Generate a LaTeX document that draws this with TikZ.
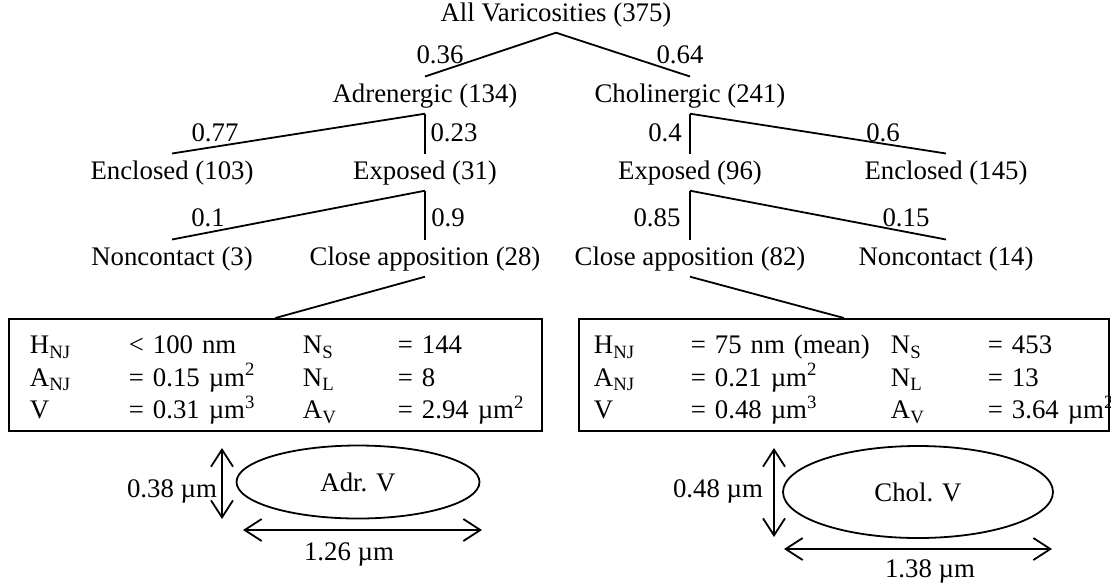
\documentclass[tikz,border=0pt]{standalone}
\usepackage{fontspec}
\setmainfont{Liberation Serif}
\usetikzlibrary{arrows.meta,shapes.geometric}
\newcommand{\figfont}{\fontsize{13.4pt}{16pt}\selectfont}
\setlength{\tabcolsep}{0pt}

\begin{document}
\begin{tikzpicture}[
    x=0.5pt, y=-0.5pt, line width=0.9pt,
    every node/.style={font=\figfont},
    tnode/.style={anchor=base, inner sep=3pt, text height=9.3pt, text depth=2.4pt},
    prob/.style={inner sep=1pt},
    databox/.style={draw, anchor=north west, align=left, inner ysep=1.2pt},
    vesicle/.style={draw, ellipse, inner sep=0pt},
    dimarrow/.style={<->, >={Straight Barb[length=8.5pt, width=11pt]}}
  ]
    \useasboundingbox (0,0) rectangle (1111,584);

    \node[tnode] (root) at (556,21) {All Varicosities (375)};
    \node[tnode] (adr) at (425,102) {Adrenergic (134)};
    \node[tnode] (chol) at (690,102) {Cholinergic (241)};
    \node[tnode] (adrEnc) at (172,179) {Enclosed (103)};
    \node[tnode] (adrExp) at (425,179) {Exposed (31)};
    \node[tnode] (cholExp) at (690,179) {Exposed (96)};
    \node[tnode] (cholEnc) at (946,179) {Enclosed (145)};
    \node[tnode] (adrNon) at (172,265) {Noncontact (3)};
    \node[tnode] (adrClose) at (425,265) {Close apposition (28)};
    \node[tnode] (cholClose) at (690,265) {Close apposition (82)};
    \node[tnode] (cholNon) at (946,265) {Noncontact (14)};

    \node[prob] (p036) at (440,55) {0.36};
    \node[prob] (p064) at (680,55) {0.64};
    \node[prob] (p077) at (215,133) {0.77};
    \node[prob] (p023) at (454,133) {0.23};
    \node[prob] (p04) at (665,133) {0.4};
    \node[prob] (p06) at (883,133) {0.6};
    \node[prob] (p01) at (208,218) {0.1};
    \node[prob] (p09) at (448,218) {0.9};
    \node[prob] (p085) at (657,218) {0.85};
    \node[prob] (p015) at (906,218) {0.15};

    \draw (root.south) -- (adr.north);
    \draw (root.south) -- (chol.north);
    \draw (adr.south) -- (adrEnc.north);
    \draw (adr.south) -- (adrExp.north);
    \draw (chol.south) -- (cholExp.north);
    \draw (chol.south) -- (cholEnc.north);
    \draw (adrExp.south) -- (adrNon.north);
    \draw (adrExp.south) -- (adrClose.north);
    \draw (cholExp.south) -- (cholClose.north);
    \draw (cholExp.south) -- (cholNon.north);

    \node[databox, inner xsep=10.5pt, text width=245.5pt] (adrBox) at (8,318) {%
      \begin{tabular}{p{49.5pt}p{87pt}p{47.5pt}l}
        \rule{0pt}{16.3pt}H\textsubscript{NJ} & < 100 nm & N\textsubscript{S} & = 144\\
        A\textsubscript{NJ} & = 0.15 µm\textsuperscript{2} & N\textsubscript{L} & = 8\\
        V & = 0.31 µm\textsuperscript{3} & A\textsubscript{V} & = 2.94 µm\textsuperscript{2}
      \end{tabular}};
    \node[databox, inner xsep=7.5pt, text width=250pt] (cholBox) at (578,318) {%
      \begin{tabular}{p{48.5pt}p{100pt}p{48.5pt}l}
        \rule{0pt}{16.3pt}H\textsubscript{NJ} & = 75 nm (mean) & N\textsubscript{S} & = 453\\
        A\textsubscript{NJ} & = 0.21 µm\textsuperscript{2} & N\textsubscript{L} & = 13\\
        V & = 0.48 µm\textsuperscript{3} & A\textsubscript{V} & = 3.64 µm\textsuperscript{2}
      \end{tabular}};

    \draw (adrClose.south) -- (adrBox.north);
    \draw (cholClose.south) -- (cholBox.north);

    \node[vesicle, minimum width=121.5pt, minimum height=36.5pt] (adrV) at (358,482) {Adr. V};
    \node[vesicle, minimum width=135pt, minimum height=46pt] (cholV) at (918,492) {Chol. V};

    \coordinate (adrHtop) at (222,448);
    \coordinate (adrHbot) at (222,519);
    \coordinate (adrWleft) at (243,530);
    \coordinate (adrWright) at (482,530);
    \coordinate (cholHtop) at (774,448);
    \coordinate (cholHbot) at (774,537);
    \coordinate (cholWleft) at (784,549);
    \coordinate (cholWright) at (1052,549);

    \draw[dimarrow] (adrHtop) -- (adrHbot);
    \draw[dimarrow] (adrWleft) -- (adrWright);
    \draw[dimarrow] (cholHtop) -- (cholHbot);
    \draw[dimarrow] (cholWleft) -- (cholWright);

    \node[anchor=base] (adrHlbl) at (172,497) {0.38 µm};
    \node[anchor=base] (adrWlbl) at (349,560) {1.26 µm};
    \node[anchor=base] (cholHlbl) at (718,497) {0.48 µm};
    \node[anchor=base] (cholWlbl) at (930,577) {1.38 µm};
  \end{tikzpicture}
\end{document}
